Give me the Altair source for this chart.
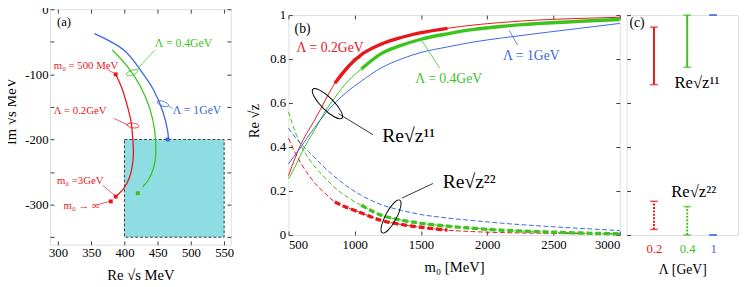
import altair as alt
import pandas as pd

FONT = "Liberation Serif"
RED, GREEN, BLUE = "#e8161b", "#3cc31c", "#3a66e2"
CYAN = "#8edde2"
AXC = "#3c3c3c"

CKEYS = ["0.2", "0.4", "1", "k"]
CVALS = [RED, GREEN, BLUE, "black"]
CSCALE = alt.Scale(domain=CKEYS, range=CVALS)

ELL_A = "M-1,0A1,0.4,0,1,0,1,0A1,0.4,0,1,0,-1,0Z"
ELL_B = "M-1,0A1,0.3,0,1,0,1,0A1,0.3,0,1,0,-1,0Z"

# ---------------- panel (a): pole trajectories ----------------
A_RE_02 = [386.8, 396.6, 404.0, 409.9, 412.8, 413.4, 412.8, 407.8, 399.0, 386.8]
A_IM_02 = [-100.0, -122.6, -147.5, -172.5, -202.5, -217.0, -232.6, -257.6, -275.0, -287.6]
A_RE_04 = [381.9, 404.0, 423.5, 438.2, 445.6, 447.1, 444.1, 435.7, 427.5]
A_IM_04 = [-62.6, -87.5, -117.5, -152.6, -187.5, -222.5, -242.6, -262.6, -272.6]
A_RE_1 = [354.9, 399.0, 423.5, 443.1, 457.8, 465.1, 466.2]
A_IM_1 = [-37.5, -62.6, -92.6, -122.6, -157.5, -187.5, -200.0]

A_XDOM = [288, 560]
A_YDOM = [-361.6, 0]
A_XTICKS = [300, 350, 400, 450, 500, 550]
A_YTICKS = [-350, -300, -250, -200, -150, -100, -50, 0]
A_BOX_X = [400, 550]
A_BOX_Y = [-350, -200]

A_DOT_LAM = ["0.2", "0.2", "0.2", "0.4", "1"]
A_DOT_RE = [386.8, 386.8, 379.4, 420.1, 465.0]
A_DOT_IM = [-100.0, -287.6, -295.1, -282.5, -200.0]

A_TXT = ["(a)", "m₀ = 500 MeV", "Λ = 0.2GeV", "Λ = 0.4GeV", "Λ = 1GeV", "m₀ =3GeV", "m₀ → ∞"]
A_TXT_LAM = ["k", "0.2", "0.2", "0.4", "1", "0.2", "0.2"]
A_TXT_X = [298.5, 293.7, 293.7, 445.6, 472.5, 298.5, 308.4]
A_TXT_Y = [-20, -86.6, -156, -52.5, -154.5, -263.6, -301.6]
A_TXT_FS = [13, 11, 11, 12, 12, 11, 11]

A_LN_LAM = ["0.2", "0.2", "0.4", "1", "0.2", "0.2"]
A_LN_X1 = [374.6, 384.3, 418.7, 465.1, 367.2, 359.9]
A_LN_Y1 = [-92.6, -167.6, -92.6, -147.5, -270.0, -300.0]
A_LN_X2 = [386.8, 406.3, 445.6, 472.5, 386.8, 376.9]
A_LN_Y2 = [-100.0, -178.5, -62.6, -152.6, -287.6, -295.1]

A_EL_LAM = ["0.2", "0.4", "1"]
A_EL_X = [412.8, 411.3, 457.8]
A_EL_Y = [-178.5, -97.5, -145.0]
A_EL_ANG = [8, 340, 20]

# ---------------- panel (b): Re sqrt(z) vs m0 ----------------
B_M0 = [500, 550, 600, 650, 700, 775, 850, 950, 1050, 1200, 1350, 1500, 1700, 1900, 2100, 2400, 2700, 3000]
B_Z11_02 = [.27, .35, .42, .475, .525, .61, .69, .765, .82, .868, .898, .92, .94, .955, .966, .978, .985, .99]
B_Z11_04 = [.256, .31, .375, .43, .48, .56, .625, .70, .755, .825, .862, .89, .915, .935, .948, .962, .972, .98]
B_Z11_1 = [.323, .365, .405, .45, .49, .55, .60, .655, .70, .76, .80, .83, .855, .878, .895, .918, .94, .962]
B_Z22_02 = [.44, .375, .32, .275, .235, .19, .15, .123, .10, .066, .048, .035, .022, .015, .011, .008, .006, .005]
B_Z22_04 = [.56, .47, .40, .35, .31, .26, .215, .17, .135, .09, .068, .053, .04, .03, .022, .015, .009, .005]
B_Z22_1 = [.486, .445, .41, .38, .35, .305, .265, .218, .18, .138, .112, .093, .077, .065, .054, .041, .03, .02]
B_THICK_LAM = ["0.2", "0.4"]
B_THICK_LO = [850, 1050]
B_THICK_HI = [1700, 3000]

B_XDOM = [500, 3000]
B_YDOM = [0, 1]
B_XTICKS = [500, 1000, 1500, 2000, 2500, 3000]
B_YTICKS = [0, 0.2, 0.4, 0.6, 0.8, 1]

B_TXT = ["(b)", "Λ = 0.2GeV", "Λ = 0.4GeV", "Λ = 1GeV", "Re√z¹¹", "Re√z²²"]
B_TXT_LAM = ["k", "0.2", "0.4", "1", "k", "k"]
B_TXT_X = [546, 561, 1456, 2118, 1208, 1664]
B_TXT_Y = [0.938, 0.849, 0.708, 0.812, 0.449, 0.241]
B_TXT_FS = [14, 14, 14, 14, 20, 20]

B_LN_LAM = ["0.2", "0.4", "1", "k", "k"]
B_LN_X1 = [985, 1504, 2166, 877, 1357]
B_LN_Y1 = [0.80, 0.886, 0.93, 0.552, 0.168]
B_LN_X2 = [1045, 1640, 2228, 1137, 1590]
B_LN_Y2 = [0.805, 0.76, 0.864, 0.456, 0.234]

B_EL_X = [794, 1274]
B_EL_Y = [0.597, 0.084]
B_EL_ANG = [45, 298]
B_EL_SIZE = [1764, 1444]

# ---------------- panel (c): allowed ranges ----------------
C_LAM = [0.2, 0.4, 1.0]
C_LAMC = ["0.2", "0.4", "1"]
C_Z11_LO = [0.684, 0.763, 1.0]
C_Z11_HI = [0.945, 1.0, 1.0]
C_Z22_LO = [0.025, 0.0, 0.0]
C_Z22_HI = [0.153, 0.129, 0.0]
C_XDOM = [0, 0.2, 0.4, 1, 1.2]
C_XRANGE = [0, 28, 62, 88.5, 114]
C_XTICKS = [0.2, 0.4, 1]

C_TXT = ["(c)", "Re√z¹¹", "Re√z²²"]
C_TXT_X = [0.021, 0.3235, 0.304]
C_TXT_Y = [0.963, 0.689, 0.196]
C_TXT_FS = [14, 17, 17]


def axis(orient, values, labels=True, title=None, **kw):
    return alt.Axis(orient=orient, values=values, labels=labels, title=title,
                    tickSize={"expr": "-4"}, tickColor=AXC, tickWidth=1,
                    domain=False, grid=False, labelFont=FONT, labelFontSize=13,
                    labelColor="black", titleFont=FONT, titleFontSize=15,
                    titleFontWeight="normal", titleColor="black", **kw)


def col():
    return alt.Color("lam:N", scale=CSCALE, legend=None)


# ---------- panel (a) ----------
AX_S = alt.Scale(domain=A_XDOM, nice=False, zero=False)
AY_S = alt.Scale(domain=A_YDOM, nice=False, zero=False)


def ax_a(f, a=None):
    return alt.X(f, type="quantitative", scale=AX_S, axis=a)


def ay_a(f, a=None):
    return alt.Y(f, type="quantitative", scale=AY_S, axis=a)


curves = []
for lam, re, im in [("0.2", A_RE_02, A_IM_02), ("0.4", A_RE_04, A_IM_04), ("1", A_RE_1, A_IM_1)]:
    for i, (r, m) in enumerate(zip(re, im)):
        curves.append({"lam": lam, "re": r, "im": m, "i": i})
df_ac = pd.DataFrame(curves)
df_box = pd.DataFrame({"x": [A_BOX_X[0]], "x2": [A_BOX_X[1]], "y": [A_BOX_Y[0]], "y2": [A_BOX_Y[1]]})
df_adot = pd.DataFrame({"lam": A_DOT_LAM, "re": A_DOT_RE, "im": A_DOT_IM})
df_atxt = pd.DataFrame({"t": A_TXT, "lam": A_TXT_LAM, "x": A_TXT_X, "y": A_TXT_Y, "fs": A_TXT_FS})
df_aln = pd.DataFrame({"lam": A_LN_LAM, "x": A_LN_X1, "y": A_LN_Y1, "x2": A_LN_X2, "y2": A_LN_Y2})
df_ael = pd.DataFrame({"lam": A_EL_LAM, "x": A_EL_X, "y": A_EL_Y, "ang": A_EL_ANG})

a_box = alt.Chart(df_box).mark_rect(fill=CYAN, stroke=AXC, strokeDash=[3, 2], strokeWidth=1).encode(
    x=ax_a("x", axis("bottom", A_XTICKS, title="Re √s  MeV", labelPadding=6, titlePadding=9)),
    x2="x2",
    y=ay_a("y", axis("left", A_YTICKS, title="Im √s  MeV", labelPadding=6, titlePadding=6, titleY=104,
                     labelExpr="datum.value % 100 == 0 ? '' + datum.value : ''")),
    y2="y2",
)
a_mirror = alt.Chart(df_box).mark_point(opacity=0).encode(
    x=ax_a("x", axis("top", A_XTICKS, labels=False)),
    y=ay_a("y", axis("right", A_YTICKS, labels=False)),
)
a_lines = alt.Chart(df_ac).mark_line(strokeWidth=1.3, interpolate="catmull-rom").encode(
    x=ax_a("re"), y=ay_a("im"), color=col(), order="i:Q", detail="lam:N")
a_dots = alt.Chart(df_adot).mark_square(size=16, opacity=1).encode(
    x=ax_a("re"), y=ay_a("im"), color=col())
a_lns = alt.Chart(df_aln).mark_rule(strokeWidth=0.7).encode(
    x=ax_a("x"), y=ay_a("y"), x2="x2", y2="y2", color=col())
a_ell = alt.Chart(df_ael).mark_point(shape=ELL_A, filled=False, size=150, strokeWidth=0.8, opacity=1).encode(
    x=ax_a("x"), y=ay_a("y"), color=col(), angle=alt.Angle("ang:Q", scale=None))
a_txt = alt.Chart(df_atxt).mark_text(align="left", baseline="middle", font=FONT).encode(
    x=ax_a("x"), y=ay_a("y"), text="t:N", color=col(), size=alt.Size("fs:Q", scale=None))

panel_a = alt.layer(a_box, a_mirror, a_lines, a_dots, a_lns, a_ell, a_txt).resolve_axis(
    x="independent", y="independent").properties(width=185, height=241)

# ---------- panel (b) ----------
BX_S = alt.Scale(domain=B_XDOM, nice=False, zero=False)
BY_S = alt.Scale(domain=B_YDOM, nice=False, zero=False)


def bx(f, a=None):
    return alt.X(f, type="quantitative", scale=BX_S, axis=a)


def by(f, a=None):
    return alt.Y(f, type="quantitative", scale=BY_S, axis=a)


rows = []
for lam, z11, z22 in [("0.2", B_Z11_02, B_Z22_02), ("0.4", B_Z11_04, B_Z22_04), ("1", B_Z11_1, B_Z22_1)]:
    for m, v1, v2 in zip(B_M0, z11, z22):
        rows.append({"lam": lam, "m0": m, "comp": "11", "v": v1})
        rows.append({"lam": lam, "m0": m, "comp": "22", "v": v2})
df_b = pd.DataFrame(rows)
thick = []
for lam, lo, hi in zip(B_THICK_LAM, B_THICK_LO, B_THICK_HI):
    sub = df_b[(df_b.lam == lam) & (df_b.m0 >= lo) & (df_b.m0 <= hi)]
    thick.append(sub)
df_bt = pd.concat(thick)
df_btxt = pd.DataFrame({"t": B_TXT, "lam": B_TXT_LAM, "x": B_TXT_X, "y": B_TXT_Y, "fs": B_TXT_FS})
df_bln = pd.DataFrame({"lam": B_LN_LAM, "x": B_LN_X1, "y": B_LN_Y1, "x2": B_LN_X2, "y2": B_LN_Y2})
df_bel = pd.DataFrame({"x": B_EL_X, "y": B_EL_Y, "ang": B_EL_ANG, "sz": B_EL_SIZE})

b_thin11 = alt.Chart(df_b[df_b.comp == "11"]).mark_line(strokeWidth=1, interpolate="monotone").encode(
    x=bx("m0", axis("bottom", B_XTICKS, title="m₀ [MeV]", labelPadding=8, titlePadding=8,
                    labelExpr="'' + datum.value")),
    y=by("v", axis("left", B_YTICKS, title="Re √z", labelPadding=7, titlePadding=8, titleY=108,
                   labelExpr="'' + datum.value")),
    color=col(), detail="lam:N")
b_mirror = alt.Chart(df_b[df_b.comp == "11"]).mark_point(opacity=0).encode(
    x=bx("m0", axis("top", B_XTICKS, labels=False)),
    y=by("v", axis("right", B_YTICKS, labels=False)))
b_thin22 = alt.Chart(df_b[df_b.comp == "22"]).mark_line(strokeWidth=1, strokeDash=[5, 2.5], interpolate="monotone").encode(
    x=bx("m0"), y=by("v"), color=col(), detail="lam:N")
b_thick11 = alt.Chart(df_bt[df_bt.comp == "11"]).mark_line(strokeWidth=3.4, interpolate="monotone").encode(
    x=bx("m0"), y=by("v"), color=col(), detail="lam:N")
b_thick22 = alt.Chart(df_bt[df_bt.comp == "22"]).mark_line(strokeWidth=3.4, strokeDash=[6, 3], interpolate="monotone").encode(
    x=bx("m0"), y=by("v"), color=col(), detail="lam:N")
b_lns = alt.Chart(df_bln).mark_rule(strokeWidth=0.8).encode(
    x=bx("x"), y=by("y"), x2="x2", y2="y2", color=col())
b_ell = alt.Chart(df_bel).mark_point(shape=ELL_B, filled=False, strokeWidth=1, color="black", opacity=1).encode(
    x=bx("x"), y=by("y"), angle=alt.Angle("ang:Q", scale=None), size=alt.Size("sz:Q", scale=None))
b_txt = alt.Chart(df_btxt).mark_text(align="left", baseline="middle", font=FONT).encode(
    x=bx("x"), y=by("y"), text="t:N", color=col(), size=alt.Size("fs:Q", scale=None))

panel_b = alt.layer(b_thin11, b_mirror, b_thin22, b_thick11, b_thick22, b_lns, b_ell, b_txt).resolve_axis(
    x="independent", y="independent").properties(width=339, height=225)

# ---------- panel (c) ----------
CX_S = alt.Scale(domain=C_XDOM, range=C_XRANGE, nice=False, zero=False)
CY_S = alt.Scale(domain=B_YDOM, nice=False, zero=False)

crow = []
caps = []
for lam, lc, l1, h1, l2, h2 in zip(C_LAM, C_LAMC, C_Z11_LO, C_Z11_HI, C_Z22_LO, C_Z22_HI):
    crow.append({"x": lam, "lam": lc, "comp": "11", "lo": l1, "hi": h1})
    crow.append({"x": lam, "lam": lc, "comp": "22", "lo": l2, "hi": h2})
    for v in (l1, h1, l2, h2):
        caps.append({"x": lam, "lam": lc, "v": v})
df_c = pd.DataFrame(crow)
df_caps = pd.DataFrame(caps)
df_ctxt = pd.DataFrame({"t": C_TXT, "x": C_TXT_X, "y": C_TXT_Y, "fs": C_TXT_FS, "lam": ["k", "k", "k"]})

lab_col = {"condition": [{"test": "datum.value == 0.2", "value": RED},
                         {"test": "datum.value == 0.4", "value": GREEN}], "value": BLUE}

c_rules = alt.Chart(df_c).mark_rule(strokeWidth=2).encode(
    x=alt.X("x:Q", scale=CX_S, axis=alt.Axis(orient="bottom", values=C_XTICKS, ticks=False, domain=False,
                                              grid=False, title="Λ  [GeV]", labelFont=FONT, labelFontSize=13,
                                              labelColor=lab_col, labelPadding=8, titleFont=FONT,
                                              titleFontSize=14, titleFontWeight="normal", titlePadding=7,
                                              titleColor="black", labelExpr="'' + datum.value")),
    y=alt.Y("lo:Q", scale=CY_S, axis=axis("left", B_YTICKS, labels=False)),
    y2="hi:Q",
    color=col(),
    strokeDash=alt.StrokeDash("comp:N", scale=alt.Scale(domain=["11", "22"], range=[[1, 0], [2, 1.5]]), legend=None),
)
c_caps = alt.Chart(df_caps).mark_tick(orient="horizontal", size=8, thickness=1.6).encode(
    x=alt.X("x:Q", scale=CX_S, axis=None), y=alt.Y("v:Q", scale=CY_S, axis=None), color=col())
c_txt = alt.Chart(df_ctxt).mark_text(align="left", baseline="middle", font=FONT).encode(
    x=alt.X("x:Q", scale=CX_S, axis=None), y=alt.Y("y:Q", scale=CY_S, axis=None), text="t:N",
    color=col(), size=alt.Size("fs:Q", scale=None))

panel_c = alt.layer(c_rules, c_caps, c_txt).resolve_axis(
    x="independent", y="independent").properties(width=114, height=225)

spacer = alt.Chart(pd.DataFrame({"s": [0]})).mark_point(opacity=0).encode(
    x=alt.value(0), y=alt.value(0)).properties(width=10, height=1, view=alt.ViewBackground(stroke=None))

right = alt.vconcat(spacer, alt.hconcat(panel_b, panel_c, spacing=7, bounds="flush"),
                    spacing=5, bounds="flush")

chart = alt.hconcat(
    panel_a, right, spacing=59, bounds="flush",
).properties(padding={"left": -5, "top": -9, "right": 0, "bottom": 0}).configure_view(
    stroke=AXC, strokeWidth=1.5).configure(font=FONT)

chart.save("out.html", embed_options={"renderer": "svg", "actions": False})
